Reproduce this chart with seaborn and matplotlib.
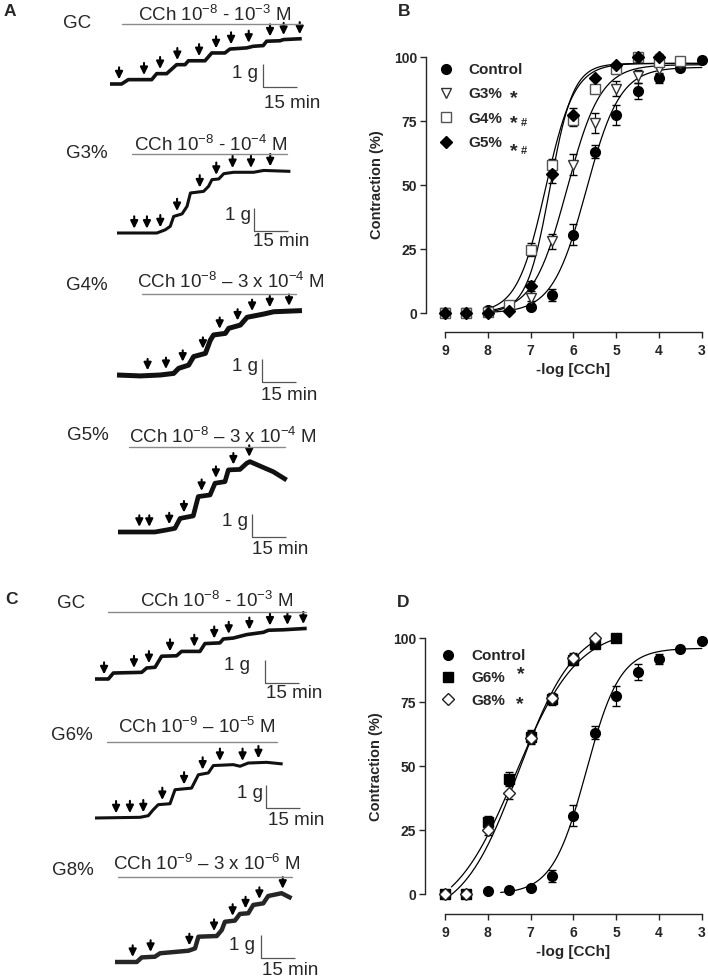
import numpy as np
import pandas as pd
import matplotlib
matplotlib.use('Agg')
import matplotlib.pyplot as plt
from matplotlib.lines import Line2D
import seaborn as sns

# ---------------- dose-response data (panel B) ----------------
LOG_CCH = [9, 8.5, 8, 7.5, 7, 6.5, 6, 5.5, 5, 4.5, 4, 3.5, 3]
CTRL = [0, 0, 1, 1.7, 2.2, 7, 30.6, 63, 77.4, 86.7, 91.8, 95.7, 99]
CTRL_SEM = [0, 0, 0, 0, 0.5, 2.5, 4, 2.5, 4, 3, 2, 1, 1]
G3 = [0, 0, 0, 1, 6, 28, 58, 74.3, 87.6, 92.4, 95.5, 97.5]
G3_SEM = [0, 0, 0, 0, 1.5, 3, 4, 4, 3, 2.5, 2, 1]
G4 = [0, 0, 0.5, 3.3, 24.7, 57.7, 75.5, 87.5, 95.4, 100, 98, 98.3]
G4_SEM = [0, 0, 0, 0, 2.5, 2.5, 2.5, 0.5, 0.5, 1, 2, 1]
G5 = [0, 0, 0, 0.8, 10.4, 54.2, 77.2, 91.7, 97, 100, 100]
G5_SEM = [0, 0, 0, 0, 2, 3.5, 3, 0.5, 0.5, 1, 1]

# ---------------- dose-response data (panel D) ----------------
G6 = [0, 0, 28.3, 45, 61.5, 76, 91.6, 97.7, 100]
G6_SEM = [0, 0, 2, 2.5, 2.5, 2, 2, 1.5, 0.5]
G8 = [0, 0, 25, 39.6, 61, 76.6, 92.2, 100]
G8_SEM = [0, 0, 2, 2.5, 2.5, 2, 2, 0.5]

# Hill fits: bottom, top, pEC50, slope ; curve range in -log units
CTRL_FIT = [0, 96, 5.7, 1.1]
G3_FIT = [0, 97, 6.15, 1.1]
G4_FIT = [0, 97.5, 6.65, 1.3]
G5_FIT = [0, 97.5, 6.55, 1.6]
G6_FIT = [-10, 104, 7.35, 0.6]
G8_FIT = [-10, 106, 7.28, 0.66]
RANGE_B = [8.0, 3.0]
RANGE_D_CTRL = [7.7, 3.0]
RANGE_G6 = [8.85, 5.0]
RANGE_G8 = [8.85, 5.5]

# ---------------- isometric traces (time in min, tension in g) ----------------
GC_A_T = [0, 5.1, 8.1, 18.4, 20.6, 25.0, 29.4, 33.1, 34.6, 41.9, 44.9, 50.7, 52.9, 60.3, 63.2, 67.6, 69.1, 75.0, 76.5, 82.4, 84.6]
GC_A_G = [0, 0, .19, .19, .45, .45, .84, .84, 1.01, 1.01, 1.35, 1.35, 1.52, 1.57, 1.64, 1.67, 1.86, 1.88, 1.93, 1.96, 1.97]
GC_A_ARROWS = [4.0, 15.0, 22.1, 29.7, 39.3, 46.8, 53.4, 61.2, 70.6, 76.6, 83.7]

G3_T = [0, 17.6, 21.3, 23.5, 25.0, 28.7, 30.9, 32.4, 38.2, 40.4, 41.9, 44.9, 47.1, 51.5, 60.3, 64.7, 76.5]
G3_G = [0, 0, .14, .29, .72, .83, 1.16, 1.74, 1.81, 2.03, 2.32, 2.35, 2.58, 2.64, 2.64, 2.72, 2.68]
G3_ARROWS = [7.6, 13.2, 19.1, 26.5, 36.5, 43.8, 51.0, 59.1, 67.6]

G4_T = [0, 10.3, 19.1, 25.0, 27.2, 31.6, 33.8, 39.0, 41.2, 42.6, 47.8, 49.3, 54.4, 57.4, 64.7, 69.1, 81.6]
G4_G = [0, -.04, 0, .07, .29, .43, .80, .94, 1.52, 1.74, 1.81, 2.03, 2.17, 2.51, 2.65, 2.75, 2.80]
G4_ARROWS = [13.5, 21.6, 29.0, 37.9, 45.3, 53.2, 59.6, 67.4, 75.9]

G5_T = [0, 16.3, 21.5, 25.1, 27.4, 33.2, 35.4, 40.6, 42.8, 47.2, 48.7, 53.8, 56.8, 58.2, 62.6, 68.5, 74.4]
G5_G = [0, 0, .09, .16, .59, .70, 1.54, 1.61, 2.12, 2.19, 2.70, 2.72, 2.99, 3.06, 2.87, 2.62, 2.26]
G5_ARROWS = [9.4, 13.8, 22.6, 29.1, 36.9, 43.2, 50.9, 57.9]

GC_C_T = [0, 5.9, 8.1, 20.6, 22.8, 26.5, 29.4, 36.0, 38.2, 46.3, 48.5, 55.1, 56.6, 61.0, 66.9, 74.3, 76.5, 83.1, 93.4]
GC_C_G = [0, 0, .26, .29, .48, .51, .99, 1.01, 1.20, 1.20, 1.54, 1.57, 1.74, 1.78, 1.93, 2.03, 2.12, 2.14, 2.20]
GC_C_ARROWS = [4.0, 17.2, 23.8, 33.1, 43.8, 52.6, 59.0, 68.1, 77.2, 84.9, 91.9]

G6_T = [0, 19.9, 23.5, 25.7, 27.9, 33.1, 35.3, 42.6, 45.6, 50.0, 52.2, 61.0, 64.0, 67.6, 75.7, 82.8]
G6_G = [0, .03, .10, .36, .58, .62, 1.23, 1.30, 1.88, 1.96, 2.28, 2.32, 2.25, 2.39, 2.42, 2.35]
G6_ARROWS = [9.3, 15.4, 21.3, 29.7, 39.3, 47.5, 55.1, 65.1, 72.1]

G8_T = [0, 9.6, 11.8, 17.6, 19.9, 32.4, 35.3, 36.8, 44.9, 47.1, 48.5, 52.9, 55.1, 58.8, 61.0, 65.4, 67.6, 73.5, 77.9]
G8_G = [0, 0, .20, .23, .38, .49, .59, 1.10, 1.13, 1.39, 1.75, 1.80, 2.09, 2.12, 2.48, 2.55, 2.87, 2.99, 2.77]
G8_ARROWS = [7.8, 15.7, 32.8, 43.7, 51.9, 57.6, 63.7, 74.0]

# ---------------- style ----------------
sns.set_style('ticks')
plt.rcParams.update({
    'font.family': ['Liberation Sans', 'DejaVu Sans'],
    'mathtext.fontset': 'custom',
    'mathtext.rm': 'Liberation Sans',
    'mathtext.it': 'Liberation Sans:italic',
    'mathtext.bf': 'Liberation Sans:bold',
    'mathtext.default': 'regular',
    'axes.linewidth': 1.0,
})

W, H = 708, 980
PX_PER_MIN = 34 / 15.0
PX_PER_G = 23.0
fig = plt.figure(figsize=(W / 100, H / 100), dpi=100)


def hill(x, fit):
    bottom, top, p, h = fit
    return bottom + (top - bottom) / (1 + 10 ** ((np.asarray(x) - p) * h))


def ftext(x, y, s, **kw):
    fig.text(x / W, 1 - y / H, s, **kw)


def hline(x1, x2, y, color='#8a8a8a', lw=1.0):
    fig.add_artist(Line2D([x1 / W, x2 / W], [1 - y / H, 1 - y / H],
                          transform=fig.transFigure, color=color, lw=lw))


def draw_trace(t, g, arrows, x0, base, lw, color='#111111'):
    left, right, up, down = 45, 235, 110, 45
    ax = fig.add_axes([(x0 - left) / W, 1 - (base + down) / H,
                       (left + right) / W, (up + down) / H])
    ax.set_xlim(-left / PX_PER_MIN, right / PX_PER_MIN)
    ax.set_ylim(-down / PX_PER_G, up / PX_PER_G)
    ax.axis('off')
    ax.plot(t, g, color=color, lw=lw, solid_capstyle='butt', solid_joinstyle='round')
    for ta in arrows:
        ya = np.interp(ta, t, g)
        ax.annotate('', xy=(ta, ya), xytext=(0, 12), textcoords='offset points',
                    arrowprops=dict(arrowstyle='-|>,head_length=0.45,head_width=0.22',
                                    color='k', lw=1.5, shrinkA=0, shrinkB=lw * 0.5 + 2))
    return ax


def scale_bar(ax, x0, base, sx, sy):
    t0 = (sx - x0) / PX_PER_MIN
    g0 = (base - sy) / PX_PER_G
    ax.plot([t0, t0, t0 + 15], [g0 + 1, g0, g0], color='#555555', lw=0.9,
            solid_capstyle='butt')


TRACES = [
    # t, g, arrows, x0, base, lw, colour, label xy, label, cch xy, cch text, line, bar corner, 1g xy, 15min xy
    (GC_A_T, GC_A_G, GC_A_ARROWS, 110, 84, 2.6, '#111111', (77, 24), 'GC',
     (215, 21), 'CCh 10$^{-8}$ - 10$^{-3}$ M', (122, 302, 24), (263, 87), (258, 73), (264, 103)),
    (G3_T, G3_G, G3_ARROWS, 117, 233, 2.2, '#111111', (87, 153), 'G3%',
     (211, 151), 'CCh 10$^{-8}$ - 10$^{-4}$ M', (132, 287, 154), (254, 231), (251, 215), (253, 242)),
    (G4_T, G4_G, G4_ARROWS, 117, 375, 3.6, '#111111', (87, 285), 'G4%',
     (231, 288), 'CCh 10$^{-8}$ – 3 x 10$^{-4}$ M', (142, 296, 294), (262, 382), (258, 366), (261, 395)),
    (G5_T, G5_G, G5_ARROWS, 118, 532, 3.4, '#111111', (88, 436), 'G5%',
     (223, 443), 'CCh 10$^{-8}$ – 3 x 10$^{-4}$ M', (129, 285, 447), (252, 537), (248, 522), (252, 550)),
    (GC_C_T, GC_C_G, GC_C_ARROWS, 95, 679, 2.6, '#111111', (71, 603), 'GC',
     (217, 607), 'CCh 10$^{-8}$ - 10$^{-3}$ M', (108, 306, 612), (265, 683), (250, 665), (266, 693)),
    (G6_T, G6_G, G6_ARROWS, 95, 818, 2.2, '#111111', (72, 735), 'G6%',
     (197, 733), 'CCh 10$^{-9}$ – 10$^{-5}$ M', (107, 277, 742), (266, 808), (263, 793), (268, 820)),
    (G8_T, G8_G, G8_ARROWS, 115, 962, 3.2, '#262626', (73, 870), 'G8%',
     (207, 870), 'CCh 10$^{-9}$ – 3 x 10$^{-6}$ M', (118, 292, 877), (261, 958), (255, 945), (262, 970)),
]

TXT = 13.5
for (t, g, arr, x0, base, lw, col, lab_xy, lab, cch_xy, cch, line, bar, g_xy, m_xy) in TRACES:
    ax = draw_trace(t, g, arr, x0, base, lw, col)
    scale_bar(ax, x0, base, *bar)
    ftext(*lab_xy, lab, fontsize=TXT, ha='center', va='center')
    ftext(*cch_xy, cch, fontsize=TXT, ha='center', va='baseline')
    hline(*line)
    ftext(*g_xy, '1 g', fontsize=TXT, ha='right', va='center')
    ftext(*m_xy, '15 min', fontsize=TXT, ha='left', va='center')

# panel letters
for (x, y, s) in [(10, 12, 'A'), (404, 12, 'B'), (11, 600, 'C'), (403, 602, 'D')]:
    ftext(x, y, s, fontsize=12.5, fontweight='bold', ha='center', va='center')


# ---------------- dose-response panels ----------------
def curves_frame(specs):
    rows = []
    for name, fit, rng in specs:
        xs = np.linspace(rng[0], rng[1], 300)
        rows.append(pd.DataFrame({'x': xs, 'y': hill(xs, fit), 'series': name}))
    df = pd.concat(rows, ignore_index=True)
    return df[df['y'] >= -0.5]


def dr_axes(left, right, top, bottom):
    ax = fig.add_axes([left / W, 1 - bottom / H, (right - left) / W, (bottom - top) / H])
    ax.set_xlim(9 + (445 - left) / 42.8, 9 + (445 - left) / 42.8 - (right - left) / 42.8)
    ax.set_ylim(-(bottom - (top + 256)) / 2.56, 100)
    return ax


def style_dr(ax):
    sns.despine(ax=ax)
    ax.spines['left'].set_bounds(0, 100)
    ax.spines['bottom'].set_bounds(3, 9)
    ax.set_yticks([0, 25, 50, 75, 100])
    ax.set_xticks([9, 8, 7, 6, 5, 4, 3])
    ax.tick_params(axis='both', direction='out', length=4.5, width=1.0, labelsize=10)
    ax.tick_params(axis='y', pad=2)
    ax.tick_params(axis='x', pad=4)
    plt.setp(ax.get_xticklabels(), fontweight='bold')
    plt.setp(ax.get_yticklabels(), fontweight='bold')
    ax.set_ylabel('Contraction (%)', fontsize=10.5, fontweight='bold')
    ax.set_xlabel('-log [CCh]', fontsize=11, fontweight='bold', va='top')
    ax.yaxis.set_label_coords(-0.15, 0.5 * 100 / 107.4 + 7.4 / 107.4)
    ax.xaxis.set_label_coords(0.53, -0.112)
    ax.set_facecolor('none')


def pts(ax, y, sem, marker, ms, mfc, mec='k', z=3):
    x = LOG_CCH[:len(y)]
    ax.errorbar(x, y, yerr=sem, fmt=marker, ms=ms, mfc=mfc, mec=mec, mew=1.0,
                ecolor='k', elinewidth=0.9, capsize=3, capthick=0.9,
                clip_on=False, zorder=z)


# B
axB = dr_axes(426, 704, 57, 332)
sns.lineplot(data=curves_frame([('Control', CTRL_FIT, RANGE_B), ('G3', G3_FIT, RANGE_B),
                                ('G4', G4_FIT, RANGE_B), ('G5', G5_FIT, RANGE_B)]),
             x='x', y='y', units='series', estimator=None, sort=False,
             color='k', lw=0.9, ax=axB, zorder=2)
pts(axB, CTRL, CTRL_SEM, 'o', 7, 'k')
pts(axB, G3, G3_SEM, 'v', 7.5, 'white', '#333333')
pts(axB, G4, G4_SEM, 's', 7, 'white', '#555555')
pts(axB, G5, G5_SEM, 'D', 6.3, 'k')
style_dr(axB)
hB = [Line2D([], [], ls='', marker='o', ms=7, mfc='k', mec='k'),
      Line2D([], [], ls='', marker='v', ms=7.5, mfc='white', mec='#333333'),
      Line2D([], [], ls='', marker='s', ms=7, mfc='white', mec='#555555'),
      Line2D([], [], ls='', marker='D', ms=6.3, mfc='k', mec='k')]
axB.legend(hB, ['Control', 'G3%', 'G4%', 'G5%'], loc='upper left',
           bbox_to_anchor=(0.043, 0.978), frameon=False, borderpad=0,
           borderaxespad=0, handlelength=1.0, handletextpad=1.0,
           labelspacing=0.68, prop={'weight': 'bold', 'size': 11})
for (x, y) in [(514, 99), (514, 124), (514, 152)]:
    ftext(x, y, '*', fontsize=14, fontweight='bold', ha='center', va='center')
for (x, y) in [(524, 123), (524, 151)]:
    ftext(x, y, '#', fontsize=8, fontweight='bold', ha='center', va='center')

# D
axD = dr_axes(425, 704, 638, 914)
sns.lineplot(data=curves_frame([('Control', CTRL_FIT, RANGE_D_CTRL), ('G6', G6_FIT, RANGE_G6),
                                ('G8', G8_FIT, RANGE_G8)]),
             x='x', y='y', units='series', estimator=None, sort=False,
             color='k', lw=0.9, ax=axD, zorder=2)
pts(axD, CTRL, CTRL_SEM, 'o', 7, 'k')
pts(axD, G6, G6_SEM, 's', 6.5, 'k')
pts(axD, G8, G8_SEM, 'D', 6.5, 'white', '#222222')
style_dr(axD)
hD = [Line2D([], [], ls='', marker='o', ms=7, mfc='k', mec='k'),
      Line2D([], [], ls='', marker='s', ms=6.5, mfc='k', mec='k'),
      Line2D([], [], ls='', marker='D', ms=6.5, mfc='white', mec='#222222')]
axD.legend(hD, ['Control', 'G6%', 'G8%'], loc='upper left',
           bbox_to_anchor=(0.055, 0.96), frameon=False, borderpad=0,
           borderaxespad=0, handlelength=1.0, handletextpad=1.0,
           labelspacing=0.55, prop={'weight': 'bold', 'size': 11})
ftext(521, 675, '*', fontsize=14, fontweight='bold', ha='center', va='center')
ftext(520, 705, '*', fontsize=14, fontweight='bold', ha='center', va='center')

fig.savefig('out.png', dpi=100)
